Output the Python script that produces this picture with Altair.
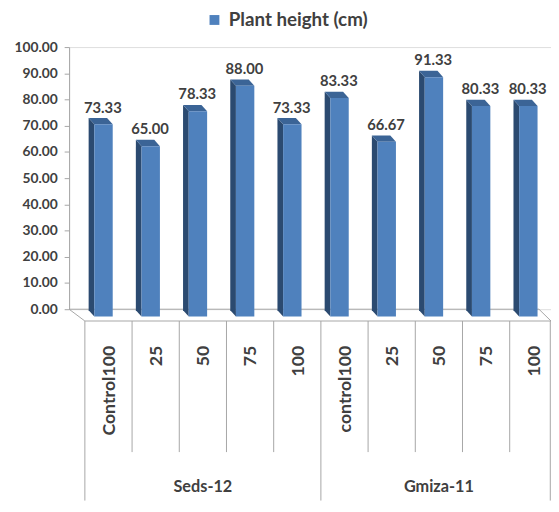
import altair as alt
import pandas as pd

# ---- data ----
groups = ["Seds-12", "Gmiza-11"]
treatments = ["Control100", "25", "50", "75", "100",
              "control100", "25", "50", "75", "100"]
heights = [73.33, 65.00, 78.33, 88.00, 73.33,
           83.33, 66.67, 91.33, 80.33, 80.33]
series_name = "Plant height (cm)"
y_ticks = [0, 10, 20, 30, 40, 50, 60, 70, 80, 90, 100]

FONT = "Lato"
TXT = "#404040"
LINE = "#a6a6a6"

# 3-D look parameters (in data units)
BACK_DY, FRONT_DY = -0.4, -2.8
SIDE_L, SIDE_R, FACE_R = 0.08, 0.20, 0.59
FACE_W = FACE_R - SIDE_R

n = len(heights)
bars = pd.DataFrame({
    "i": list(range(n)),
    "treat": treatments,
    "v": heights,
    "series": [series_name] * n,
})
bars["x1"] = bars["i"] + SIDE_R
bars["x2"] = bars["i"] + FACE_R
bars["ytop"] = bars["v"] + FRONT_DY
bars["ybot"] = FRONT_DY
bars["lx"] = bars["i"] + 0.38
bars["ly"] = bars["v"] + 1.7
bars["label"] = bars["v"].map(lambda t: f"{t:.2f}")
bars["cx"] = bars["i"] + 0.53
bars["cy"] = -13.9

side_rows, top_rows = [], []
for i, v in enumerate(heights):
    side_rows.append({"id": i, "x": i + SIDE_L, "yt": v + BACK_DY, "yb": BACK_DY})
    side_rows.append({"id": i, "x": i + SIDE_R, "yt": v + FRONT_DY, "yb": FRONT_DY})
    top_rows.append({"id": i, "y": v + BACK_DY, "xl": i + SIDE_L, "xr": i + SIDE_L + FACE_W})
    top_rows.append({"id": i, "y": v + FRONT_DY, "xl": i + SIDE_R, "xr": i + FACE_R})
side = pd.DataFrame(side_rows)
top = pd.DataFrame(top_rows)

XMIN, XMAX = -0.334, 9.875
xs = alt.Scale(domain=[XMIN, XMAX], nice=False, zero=False)
ys = alt.Scale(domain=[0, 100], nice=False, zero=False)
yax = alt.Axis(values=y_ticks, format=".2f", title=None, grid=False,
               labelOverlap=False, labelFlush=False,
               labelFont=FONT, labelFontSize=14, labelFontWeight="bold",
               labelColor=TXT, domainColor=LINE, tickColor=LINE,
               tickSize=5, labelPadding=7)


def X(f):
    return alt.X(f, scale=xs, axis=None)


def Y(f):
    return alt.Y(f, scale=ys, axis=yax)


# floor outline
floor = pd.DataFrame({
    "o": [0, 1, 2, 3, 4],
    "x": [XMIN, 9.62, XMAX, 0, XMIN],
    "y": [0, 0, -4.5, -4.5, 0],
})
floor_ch = alt.Chart(floor).mark_line(color=LINE, strokeWidth=1).encode(
    x=X("x:Q"), y=Y("y:Q"), order="o:Q")

# table lines
inner = pd.DataFrame({"x": [1, 2, 3, 4, 6, 7, 8, 9], "y": -4.5, "y2": -54.5})
outer = pd.DataFrame({"x": [0, 5, 9.86], "y": -4.5, "y2": -73})
inner_ch = alt.Chart(inner).mark_rule(color=LINE, strokeWidth=1).encode(
    x=X("x:Q"), y=Y("y:Q"), y2="y2:Q")
outer_ch = alt.Chart(outer).mark_rule(color=LINE, strokeWidth=1).encode(
    x=X("x:Q"), y=Y("y:Q"), y2="y2:Q")

# bars
side_ch = alt.Chart(side).mark_area(color="#2b4a70", opacity=1).encode(
    x=X("x:Q"), y=Y("yt:Q"), y2="yb:Q", detail="id:N")
top_ch = alt.Chart(top).mark_area(color="#3b6496", orient="horizontal", opacity=1).encode(
    y=Y("y:Q"), x=X("xl:Q"), x2="xr:Q", detail="id:N")
front_ch = alt.Chart(bars).mark_rect(strokeWidth=0).encode(
    x=X("x1:Q"),
    x2="x2:Q",
    y=Y("ytop:Q"),
    y2="ybot:Q",
    color=alt.Color("series:N", scale=alt.Scale(range=["#4f81bd"]),
                    legend=alt.Legend(orient="none", legendX=138, legendY=-37,
                                      title=None, symbolType="square", symbolSize=100,
                                      symbolStrokeWidth=0, labelFont=FONT,
                                      labelFontSize=19, labelFontWeight="bold",
                                      labelColor=TXT, labelOffset=5)),
)

labels_ch = alt.Chart(bars).mark_text(
    font=FONT, fontSize=15, fontWeight="bold", color=TXT, baseline="alphabetic"
).encode(x=X("lx:Q"), y=Y("ly:Q"), text="label:N")

cat_ch = alt.Chart(bars).mark_text(
    font=FONT, fontSize=18, fontWeight="bold", color=TXT, angle=270,
    align="right", baseline="middle"
).encode(x=X("cx:Q"), y=Y("cy:Q"), text="treat:N")

grp = pd.DataFrame({"g": groups, "x": [2.5, 7.5], "y": [-67.7, -67.7]})
grp_ch = alt.Chart(grp).mark_text(
    font=FONT, fontSize=16.5, fontWeight="bold", color=TXT, baseline="middle"
).encode(x=X("x:Q"), y=Y("y:Q"), text="g:N")

chart = alt.layer(
    floor_ch, inner_ch, outer_ch, side_ch, top_ch, front_ch, labels_ch, cat_ch, grp_ch
).properties(
    width=489, height=266,
    autosize=alt.AutoSizeParams(type="none"),
    padding={"left": 62, "top": 36, "right": 0, "bottom": 194},
).configure_view(stroke=None).configure(background="white")

chart.save("out.html", embed_options={"renderer": "svg", "actions": False})
